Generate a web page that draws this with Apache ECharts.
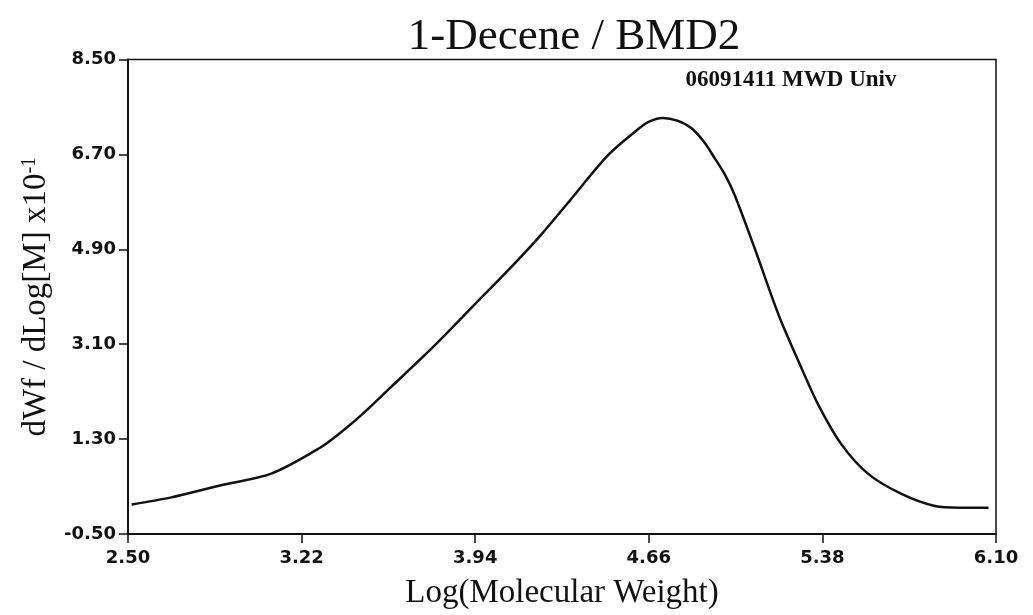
<!DOCTYPE html>
<html>
<head>
<meta charset="utf-8">
<script src="https://cdn.jsdelivr.net/npm/echarts@6/dist/echarts.min.js"></script>
<style>html,body{margin:0;padding:0;background:#fff;}#c{width:1033px;height:615px;}</style>
</head>
<body>
<div id="c"></div>
<script>
const titleText = '1-Decene / BMD2';
const subText = '06091411 MWD Univ';
const xName = 'Log(Molecular Weight)';
const xTicks = [2.50, 3.22, 3.94, 4.66, 5.38, 6.10];
const yTicks = [-0.50, 1.30, 3.10, 4.90, 6.70, 8.50];
const logMW = [2.515, 2.675, 2.882, 3.097, 3.298, 3.381, 3.464, 3.589, 3.755, 3.935, 4.101, 4.212, 4.337, 4.490, 4.600, 4.657, 4.718, 4.778, 4.836, 4.890, 4.933, 4.975, 5.016, 5.099, 5.168, 5.210, 5.293, 5.362, 5.459, 5.570, 5.708, 5.847, 5.950, 6.069];
const dwf = [0.06, 0.19, 0.42, 0.65, 1.14, 1.42, 1.74, 2.28, 3.00, 3.84, 4.62, 5.17, 5.85, 6.68, 7.12, 7.31, 7.39, 7.34, 7.20, 6.93, 6.63, 6.32, 5.93, 4.92, 4.03, 3.52, 2.65, 1.96, 1.20, 0.64, 0.26, 0.03, 0.0, 0.0];

const chart = echarts.init(document.getElementById('c'));
const serif = '"Liberation Serif", "Times New Roman", serif';
const sans = '"DejaVu Sans", sans-serif';
chart.setOption({
  backgroundColor: '#fff',
  animation: false,
  title: [
    { text: titleText, left: 569, top: 10, textAlign: 'center',
      textStyle: { fontFamily: serif, fontSize: 45, fontWeight: 'normal', color: '#111' } },
    { text: subText, left: 786, top: 64, textAlign: 'center',
      textStyle: { fontFamily: serif, fontSize: 23, fontWeight: 'bold', color: '#111' } }
  ],
  grid: { left: 128, right: 37, top: 59.5, bottom: 78, show: true, borderColor: '#111', borderWidth: 1.5, backgroundColor: 'transparent' },
  xAxis: {
    type: 'value', min: xTicks[0], max: xTicks[xTicks.length - 1], interval: 0.72,
    name: xName, nameLocation: 'middle', nameGap: 43,
    nameTextStyle: { fontFamily: serif, fontSize: 33, color: '#111' },
    axisLine: { onZero: false, lineStyle: { color: '#111', width: 2 } },
    axisTick: { show: true, inside: false, length: 9, lineStyle: { color: '#111', width: 1.5 } },
    axisLabel: { margin: 15, fontFamily: sans, fontWeight: 'bold', fontSize: 18, color: '#111',
      formatter: v => v.toFixed(2) },
    splitLine: { show: false }
  },
  yAxis: {
    type: 'value', min: yTicks[0], max: yTicks[yTicks.length - 1], interval: 1.8,
    name: '{m|dWf / dLog[M] x10}{s|-1}', nameLocation: 'middle', nameGap: 72, nameRotate: 90,
    nameTextStyle: { fontFamily: serif, fontSize: 33, color: '#111',
      rich: { m: { fontFamily: serif, fontSize: 33, color: '#111' },
              s: { fontFamily: serif, fontSize: 20, color: '#111', verticalAlign: 'top', padding: [0, 0, 14, 0] } } },
    axisLine: { onZero: false, lineStyle: { color: '#111', width: 2 } },
    axisTick: { show: true, inside: false, length: 9, lineStyle: { color: '#111', width: 1.5 } },
    axisLabel: { margin: 12, fontFamily: sans, fontWeight: 'bold', fontSize: 18, color: '#111',
      formatter: v => v.toFixed(2) },
    splitLine: { show: false }
  },
  series: [{
    type: 'line',
    data: logMW.map((x, i) => [x, dwf[i]]),
    showSymbol: false,
    smooth: 0.3,
    lineStyle: { color: '#111', width: 2.5 }
  }]
});
</script>
</body>
</html>
